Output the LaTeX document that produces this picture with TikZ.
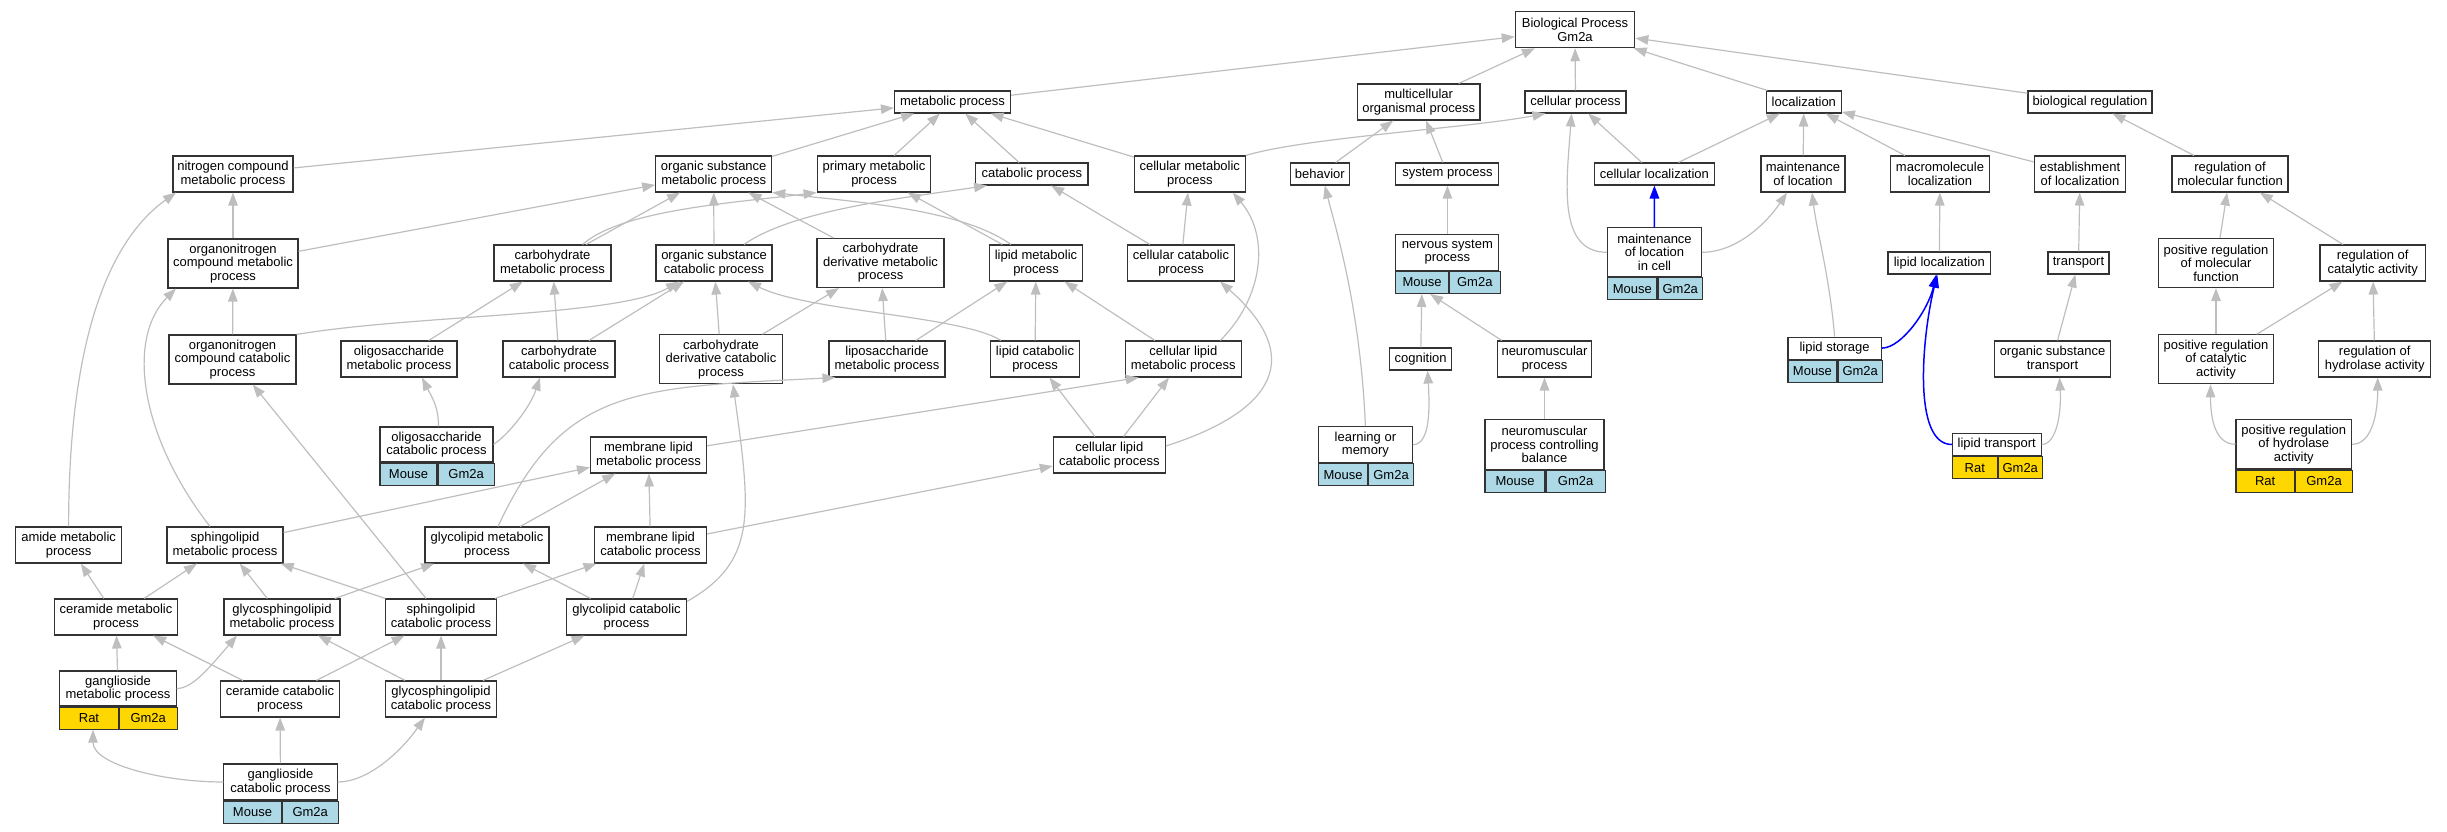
\documentclass[tikz,border=0pt]{standalone}
\usepackage{fontspec}
\setmainfont{Liberation Sans}
\usetikzlibrary{arrows.meta}
\definecolor{edgegray}{HTML}{BEBEBE}
\definecolor{boxline}{HTML}{333333}
\definecolor{mouseblue}{HTML}{ADD8E6}
\definecolor{ratgold}{HTML}{FFD700}
\tikzset{
  term/.style={draw=boxline, line width=1.1pt, fill=white, align=center, inner sep=1pt,
    font=\fontsize{13}{13.5}\selectfont},
  term1/.style={term, minimum height=22pt},
  term2/.style={term, minimum height=36pt},
  term3/.style={term, minimum height=49pt},
  cell/.style={term, minimum height=22pt, anchor=north west},
  mouse/.style={cell, fill=mouseblue},
  rat/.style={cell, fill=ratgold},
  isa/.style={draw=edgegray, line width=1.2pt, -{Triangle[length=13pt,width=9.5pt]}},
  isablue/.style={isa, draw=blue, line width=1.5pt}
}
\begin{document}
\begin{tikzpicture}[x=1pt,y=-1pt]
	\useasboundingbox (0,0) rectangle (2447,832);
	% Wurzel und erste Ebene
	\node[term2, minimum width=119.5pt] (bp) at (1575,29.7) {Biological Process\\Gm2a};
	\node[term1, minimum width=116pt] (mp) at (952.5,102) {metabolic process};
	\node[term2, minimum width=122.6pt] (mop) at (1418.7,102) {multicellular\\organismal process};
	\node[term1, minimum width=101pt] (celp) at (1575.5,102) {cellular process};
	\node[term1, minimum width=75pt] (loc) at (1803.8,102) {localization};
	\node[term1, minimum width=124pt] (breg) at (2090,102) {biological regulation};
	% zweite Ebene
	\node[term2, minimum width=120pt] (ncmp) at (233,174) {nitrogen compound\\metabolic process};
	\node[term2, minimum width=116pt] (osmp) at (713.7,174) {organic substance\\metabolic process};
	\node[term2, minimum width=113.6pt] (pmp) at (874,174) {primary metabolic\\process};
	\node[term1, minimum width=112.4pt] (cp) at (1031.8,174) {catabolic process};
	\node[term2, minimum width=111pt] (cmp) at (1189.8,174) {cellular metabolic\\process};
	\node[term1, minimum width=58.5pt] (beh) at (1319.8,174) {behavior};
	\node[term1, minimum width=103pt] (sysp) at (1447.4,174) {system process};
	\node[term1, minimum width=120.6pt] (cloc) at (1654.4,174) {cellular localization};
	\node[term2, minimum width=84pt] (mol) at (1803,174) {maintenance\\of location};
	\node[term2, minimum width=99pt] (mmloc) at (1940,174) {macromolecule\\localization};
	\node[term2, minimum width=91pt] (eloc) at (2080,174) {establishment\\of localization};
	\node[term2, minimum width=116pt] (rmf) at (2230,174) {regulation of\\molecular function};
	% dritte Ebene
	\node[term3, minimum width=130pt] (oncmp) at (233,263.5) {organonitrogen\\compound metabolic\\process};
	\node[term2, minimum width=117pt] (chmp) at (552.5,263) {carbohydrate\\metabolic process};
	\node[term2, minimum width=116pt] (oscp) at (714,263) {organic substance\\catabolic process};
	\node[term3, minimum width=127pt] (chdmp) at (880.5,263) {carbohydrate\\derivative metabolic\\process};
	\node[term2, minimum width=93pt] (lmp) at (1036,263) {lipid metabolic\\process};
	\node[term2, minimum width=107pt] (ccp) at (1181,263) {cellular catabolic\\process};
	\node[term, minimum width=103pt, minimum height=36pt] (nsp) at (1447.4,252.3) {nervous system\\process};
	\node[mouse, minimum width=52.3pt] (nspL) at (nsp.south west) {Mouse};
	\node[mouse, minimum width=51pt] (nspR) at (nspL.north east) {Gm2a};
	\node[term, minimum width=93.7pt, minimum height=49pt] (molic) at (1654.5,252.3) {maintenance\\of location\\in cell};
	\node[mouse, minimum width=49.3pt] (molicL) at (molic.south west) {Mouse};
	\node[mouse, minimum width=44.4pt] (molicR) at (molicL.north east) {Gm2a};
	\node[term1, minimum width=102.6pt] (lloc) at (1939.3,263) {lipid localization};
	\node[term1, minimum width=61pt] (tr) at (2078.5,263) {transport};
	\node[term3, minimum width=115pt] (prmf) at (2216,263) {positive regulation\\of molecular\\function};
	\node[term2, minimum width=105.5pt] (rca) at (2372.7,263) {regulation of\\catalytic activity};
	% vierte Ebene
	\node[term3, minimum width=127pt] (onccp) at (232.5,359.5) {organonitrogen\\compound catabolic\\process};
	\node[term2, minimum width=116pt] (olmp) at (399,359) {oligosaccharide\\metabolic process};
	\node[term2, minimum width=112pt] (chcp) at (559,359) {carbohydrate\\catabolic process};
	\node[term3, minimum width=123pt] (chdcp) at (721,359.3) {carbohydrate\\derivative catabolic\\process};
	\node[term2, minimum width=116pt] (lsmp) at (887,359) {liposaccharide\\metabolic process};
	\node[term2, minimum width=89pt] (lcp) at (1035,359) {lipid catabolic\\process};
	\node[term2, minimum width=116pt] (clmp) at (1183.3,359) {cellular lipid\\metabolic process};
	\node[term1, minimum width=62.5pt] (cog) at (1420.6,359) {cognition};
	\node[term2, minimum width=94.5pt] (nmp) at (1544.5,359) {neuromuscular\\process};
	\node[term1, minimum width=93.3pt] (lst) at (1834.6,348.1) {lipid storage};
	\node[mouse, minimum width=49pt] (lstL) at (lst.south west) {Mouse};
	\node[mouse, minimum width=44.3pt] (lstR) at (lstL.north east) {Gm2a};
	\node[term2, minimum width=115.6pt] (ost) at (2052.5,359) {organic substance\\transport};
	\node[term3, minimum width=115pt] (prca) at (2216,359.3) {positive regulation\\of catalytic\\activity};
	\node[term2, minimum width=112pt] (rha) at (2374.7,359) {regulation of\\hydrolase activity};
	% fuenfte Ebene
	\node[term, minimum width=113pt, minimum height=35pt] (olcp) at (436.5,444.5) {oligosaccharide\\catabolic process};
	\node[mouse, minimum width=57pt] (olcpL) at (olcp.south west) {Mouse};
	\node[mouse, minimum width=56pt] (olcpR) at (olcpL.north east) {Gm2a};
	\node[term2, minimum width=116pt] (mlmp) at (648.5,455) {membrane lipid\\metabolic process};
	\node[term2, minimum width=112pt] (clcp) at (1109.3,455) {cellular lipid\\catabolic process};
	\node[term, minimum width=93.8pt, minimum height=36pt] (lom) at (1365.4,444.7) {learning or\\memory};
	\node[mouse, minimum width=49.1pt] (lomL) at (lom.south west) {Mouse};
	\node[mouse, minimum width=44.7pt] (lomR) at (lomL.north east) {Gm2a};
	\node[term, minimum width=119pt, minimum height=49.6pt] (nmpcb) at (1544.5,444.5) {neuromuscular\\process controlling\\balance};
	\node[mouse, minimum width=60pt] (nmpcbL) at (nmpcb.south west) {Mouse};
	\node[mouse, minimum width=59pt] (nmpcbR) at (nmpcbL.north east) {Gm2a};
	\node[term1, minimum width=88.7pt] (ltr) at (1996.7,444.5) {lipid transport};
	\node[rat, minimum width=44.9pt] (ltrL) at (ltr.south west) {Rat};
	\node[rat, minimum width=43.8pt] (ltrR) at (ltrL.north east) {Gm2a};
	\node[term, minimum width=115.6pt, minimum height=49.3pt] (prha) at (2293.8,444.3) {positive regulation\\of hydrolase\\activity};
	\node[rat, minimum width=58.3pt] (prhaL) at (prha.south west) {Rat};
	\node[rat, minimum width=57.3pt] (prhaR) at (prhaL.north east) {Gm2a};
	% untere Ebenen
	\node[term2, minimum width=105.6pt] (amp) at (68.6,545) {amide metabolic\\process};
	\node[term2, minimum width=116pt] (splmp) at (225,545) {sphingolipid\\metabolic process};
	\node[term2, minimum width=124pt] (glmp) at (487,545) {glycolipid metabolic\\process};
	\node[term2, minimum width=112pt] (mlcp) at (650.5,545) {membrane lipid\\catabolic process};
	\node[term2, minimum width=122.6pt] (cermp) at (116,617) {ceramide metabolic\\process};
	\node[term2, minimum width=116pt] (gsmp) at (282,617) {glycosphingolipid\\metabolic process};
	\node[term2, minimum width=111.5pt] (splcp) at (441,617) {sphingolipid\\catabolic process};
	\node[term2, minimum width=120pt] (glcp) at (626.5,617) {glycolipid catabolic\\process};
	\node[term, minimum width=116.3pt, minimum height=35pt] (ganmp) at (118,688.5) {ganglioside\\metabolic process};
	\node[rat, minimum width=58.3pt] (ganmpL) at (ganmp.south west) {Rat};
	\node[rat, minimum width=58pt] (ganmpR) at (ganmpL.north east) {Gm2a};
	\node[term2, minimum width=118.6pt] (cercp) at (280,699) {ceramide catabolic\\process};
	\node[term2, minimum width=111.5pt] (gscp) at (441,699) {glycosphingolipid\\catabolic process};
	\node[term, minimum width=113.2pt, minimum height=36pt] (gancp) at (280.5,782) {ganglioside\\catabolic process};
	\node[mouse, minimum width=57.2pt] (gancpL) at (gancp.south west) {Mouse};
	\node[mouse, minimum width=56pt] (gancpR) at (gancpL.north east) {Gm2a};
	% Kanten oben
	\draw[isa] (mp) -- (bp);
	\draw[isa] (mop) -- (bp);
	\draw[isa] (celp) -- (bp);
	\draw[isa] (loc) -- (bp);
	\draw[isa] (breg) -- (bp);
	\draw[isa] (ncmp) -- (mp);
	\draw[isa] (osmp) -- (mp);
	\draw[isa] (pmp) -- (mp);
	\draw[isa] (cp) -- (mp);
	\draw[isa] (cmp) -- (mp);
	\draw[isa] (cmp.north east) .. controls +(60,-18) and +(-80,15) .. ([xshift=-30pt]celp.south);
	\draw[isa] (cloc) -- (celp);
	\draw[isa] (molic.west) .. controls +(-50,0) and +(-5,70) .. ([xshift=-4pt]celp.south);
	\draw[isa] (cloc) -- (loc);
	\draw[isa] (mol) -- (loc);
	\draw[isa] (mmloc) -- (loc);
	\draw[isa] (eloc) -- (loc);
	\draw[isa] (rmf) -- (breg);
	\draw[isa] (beh) -- (mop);
	\draw[isa] (sysp) -- (mop);
	% Kanten Stoffwechsel
	\draw[isa] (chmp) -- (osmp);
	\draw[isa] ([xshift=30pt]chmp.north) .. controls +(40,-35) and +(-80,10) .. (pmp.south west);
	\draw[isa] (oncmp) -- (osmp);
	\draw[isa] (oscp) -- (osmp);
	\draw[isa] (chdmp) -- (osmp);
	\draw[isa] ([xshift=-25pt]lmp.north) .. controls +(-50,-35) and +(90,10) .. (osmp.south east);
	\draw[isa] (lmp) -- (pmp);
	\draw[isa] ([xshift=30pt]oscp.north) .. controls +(50,-35) and +(-80,12) .. ([xshift=12pt]cp.south west);
	\draw[isa] (ccp) -- (cp);
	\draw[isa] (ccp) -- (cmp);
	\draw[isa] ([xshift=37pt]clmp.north) .. controls +(42,-42) and +(38,45) .. ([xshift=43pt]cmp.south);
	\draw[isa] (olmp) -- (chmp);
	\draw[isa] (chcp) -- (chmp);
	\draw[isa] (onccp.north east) .. controls +(120,-20) and +(-60,35) .. ([xshift=-35pt]oscp.south);
	\draw[isa] (chcp) -- (oscp);
	\draw[isa] (chdcp) -- (oscp);
	\draw[isa] ([xshift=-34pt]lcp.north) .. controls +(-40,-25) and +(60,30) .. ([xshift=34pt]oscp.south);
	\draw[isa] (chdcp) -- (chdmp);
	\draw[isa] (lsmp) -- (chdmp);
	\draw[isa] (lsmp) -- (lmp);
	\draw[isa] (lcp) -- (lmp);
	\draw[isa] (clmp) -- (lmp);
	\draw[isa] ([yshift=9pt]clcp.east) .. controls +(110,-35) and +(85,75) .. ([xshift=39pt]ccp.south);
	\draw[isa] ([xshift=11pt]glmp.north) .. controls +(65,-140) and +(-200,10) .. ([xshift=7pt]lsmp.south west);
	\draw[isa] ([yshift=-3pt]glcp.north east) .. controls +(70,-40) and +(18,130) .. ([xshift=12pt]chdcp.south);
	\draw[isa] (clcp) -- (lcp);
	\draw[isa] (mlmp) -- ([xshift=14pt]clmp.south west);
	\draw[isa] (clcp) -- (clmp);
	\draw[isa] (mlcp) -- (clcp);
	\draw[isa] ([xshift=2pt]olcp.north) .. controls +(0,-20) and +(10,20) .. ([xshift=23pt]olmp.south);
	\draw[isa] (olcp.east) .. controls +(15,-10) and +(-10,30) .. ([xshift=-19pt]chcp.south);
	\draw[isa] (splcp) -- (onccp);
	\draw[isa] (onccp) -- (oncmp);
	\draw[isa] ([xshift=-15pt]splmp.north) .. controls +(-70,-90) and +(-50,50) .. ([xshift=-57pt]oncmp.south);
	\draw[isa] (oncmp) -- (ncmp);
	\draw[isa] (amp.north) .. controls +(0,-180) and +(-70,50) .. ([xshift=-57pt]ncmp.south);
	% Kanten Lipide
	\draw[isa] (splmp) -- (mlmp);
	\draw[isa] (glmp) -- (mlmp);
	\draw[isa] (mlcp) -- (mlmp);
	\draw[isa] (gsmp) -- (glmp);
	\draw[isa] (glcp) -- (glmp);
	\draw[isa] (splcp) -- (mlcp);
	\draw[isa] (glcp) -- (mlcp);
	\draw[isa] (cermp) -- (splmp);
	\draw[isa] (gsmp) -- (splmp);
	\draw[isa] (splcp) -- (splmp);
	\draw[isa] (cermp) -- (amp);
	\draw[isa] (ganmp) -- (cermp);
	\draw[isa] (cercp) -- (cermp);
	\draw[isa] (ganmp.east) .. controls +(15,0) and +(-30,35) .. ([xshift=-45pt]gsmp.south);
	\draw[isa] (gscp) -- (gsmp);
	\draw[isa] (cercp) -- (splcp);
	\draw[isa] (gscp) -- (splcp);
	\draw[isa] (gscp) -- (glcp);
	\draw[isa] (gancp.west) .. controls +(-60,0) and +(0,35) .. ([xshift=4pt]ganmpL.south);
	\draw[isa] (gancp) -- (cercp);
	\draw[isa] (gancp.east) .. controls +(30,0) and +(-25,35) .. ([xshift=-16pt]gscp.south);
	% Kanten rechts
	\draw[isa] (lom.north) .. controls +(-5,-120) and +(10,40) .. ([xshift=5pt]beh.south);
	\draw[isa] (nsp) -- (sysp);
	\draw[isa] (cog) -- (nspL);
	\draw[isa] ([xshift=5pt]nmp.north west) -- ([xshift=8pt]nspL.south);
	\draw[isa] (lom.east) .. controls +(18,0) and +(2,35) .. ([xshift=7pt]cog.south);
	\draw[isa] (nmpcb) -- (nmp);
	\draw[isa] (molic.east) .. controls +(35,0) and +(-20,30) .. ([xshift=-16pt]mol.south);
	\draw[isa] (lst.north) .. controls +(-5,-60) and +(5,40) .. ([xshift=9pt]mol.south);
	\draw[isablue] (molic) -- (cloc);
	\draw[isa] (lloc) -- (mmloc);
	\draw[isablue] (lst.east) .. controls +(20,0) and +(-8,35) .. ([xshift=-3pt]lloc.south);
	\draw[isablue] (ltr.west) .. controls +(-40,0) and +(-15,60) .. ([xshift=-2pt]lloc.south);
	\draw[isa] (tr) -- (eloc);
	\draw[isa] (ost) -- (tr);
	\draw[isa] (ltr.east) .. controls +(15,0) and +(2,35) .. ([xshift=7pt]ost.south);
	\draw[isa] (prmf) -- (rmf);
	\draw[isa] (rca) -- (rmf);
	\draw[isa] (prca) -- (prmf);
	\draw[isa] (prca) -- (rca);
	\draw[isa] (rha) -- (rca);
	\draw[isa] (prha.west) .. controls +(-20,0) and +(0,35) .. ([xshift=-5.5pt]prca.south);
	\draw[isa] (prha.east) .. controls +(20,0) and +(0,35) .. ([xshift=3pt]rha.south);
\end{tikzpicture}
\end{document}
